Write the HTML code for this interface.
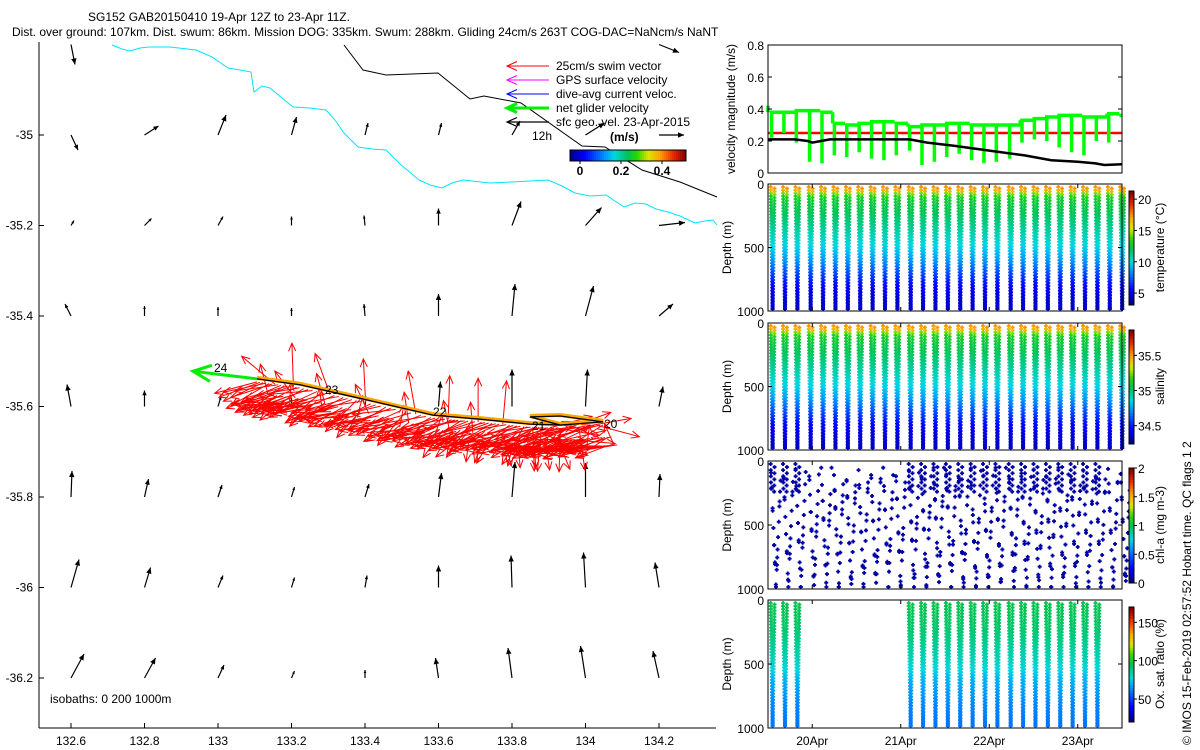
<!DOCTYPE html>
<html><head><meta charset="utf-8"><title>SG152 GAB20150410</title>
<style>
html,body{margin:0;padding:0;background:#fff;}
svg{display:block;font-family:"Liberation Sans",sans-serif;}
text{font-size:12px;fill:#000;}
</style></head>
<body>
<svg id="fig" width="1200" height="750" viewBox="0 0 1200 750" xmlns="http://www.w3.org/2000/svg">
<rect width="1200" height="750" fill="#fff"/>
<text x="88" y="21">SG152 GAB20150410 19-Apr 12Z to 23-Apr 11Z.</text>
<text x="12" y="36">Dist. over ground: 107km. Dist. swum: 86km. Mission DOG: 335km. Swum: 288km. Gliding 24cm/s 263T COG-DAC=NaNcm/s NaNT</text>
<g id="map"></g>
<g id="right"></g>
<text transform="translate(1191,745) rotate(-90)" font-size="12">© IMOS 15-Feb-2019 02:57:52 Hobart time. QC flags 1  2</text>
</svg>
<script>
// ===== data =====
const diveStart=[19.53,19.67,19.81,19.96,20.10,20.24,20.38,20.52,20.66,20.80,20.94,21.09,21.23,21.37,21.51,21.65,21.79,21.93,22.07,22.22,22.36,22.50,22.64,22.78,22.92,23.06,23.20,23.34,23.48];
const depthLevels=[0,25,50,75,100,125,150,175,200,225,250,275,300,325,350,375,400,425,450,475,500,525,550,575,600,625,650,675,700,725,750,775,800,825,850,875,900,925,950,975,1000];
const tempProfile=[17.5,16.8,14.5,13.2,12.8,12.6,12.4,12.3,12.2,12.0,11.8,11.6,11.4,11.2,11.0,10.8,10.6,10.4,10.2,10.0,9.8,9.5,9.2,8.9,8.6,8.2,7.8,7.4,7.0,6.6,6.2,5.8,5.5,5.2,5.0,4.8,4.6,4.4,4.3,4.2,4.1];
const salProfile=[35.52,35.46,35.25,35.14,35.10,35.09,35.07,35.06,35.05,35.03,35.01,35.0,34.98,34.96,34.94,34.93,34.91,34.89,34.87,34.85,34.84,34.81,34.78,34.76,34.73,34.69,34.66,34.62,34.59,34.55,34.52,34.48,34.45,34.43,34.41,34.39,34.37,34.36,34.35,34.34,34.33];
const oxyProfile=[96,95,95,94,94,93,93,92,92,91,90,89,88,87,86,85,84,83,82,81,80,78,76,74,72,70,69,68,67,66,65,64,63,62,62,61,61,60,60,59,59];
const oxyDives=[0,1,2,11,12,13,14,15,16,17,18,19,20,21,22,23,24,25,26];
const chlDepths=[70,150,230,320,410,500,590,680,770,860,950];
const chlShift=[0,40,-30,60,-50,20,70,-20,45,-60,30,-10,55,-40,15,65,-35,25,-55,50,5,-25,35,-45,60,-15,40,-30,10];
const chlValue=0.05;
const greenLevel=[0.38,0.38,0.39,0.39,0.38,0.31,0.30,0.31,0.32,0.32,0.31,0.29,0.30,0.30,0.31,0.31,0.30,0.30,0.30,0.30,0.33,0.34,0.35,0.36,0.36,0.35,0.35,0.37,0.36];
const greenMin=[0.22,0.25,0.19,0.07,0.06,0.11,0.10,0.13,0.09,0.08,0.11,0.14,0.05,0.07,0.10,0.12,0.08,0.06,0.07,0.09,0.19,0.21,0.20,0.16,0.13,0.11,0.20,0.19,0.36];
const swimSpeed=0.25;
const blackTimes=[19.5,19.8,19.95,20.0,20.1,20.2,21.0,21.1,21.3,21.6,22.0,22.4,22.7,23.0,23.2,23.3,23.5];
const blackVals=[0.21,0.21,0.20,0.19,0.20,0.21,0.21,0.21,0.19,0.17,0.14,0.11,0.08,0.07,0.06,0.05,0.055];
const velTicks=[0,0.2,0.4,0.6,0.8];
const depthTicks=[0,500,1000];
const dateTicks=[20,21,22,23];
const dateLabels=["20Apr","21Apr","22Apr","23Apr"];
// map data
const lonTicks=[132.6,132.8,133,133.2,133.4,133.6,133.8,134,134.2];
const latTicks=[-35,-35.2,-35.4,-35.6,-35.8,-36,-36.2];
const gridLats=[-34.8,-35,-35.2,-35.4,-35.6,-35.8,-36,-36.2];
const geoU=[[4,0,0,0,0,0,0,0,20],[7,14,8,5,3,3,8,19,25],[3,7,5,0,-1,0,9,16,26],[-6,0,0,0,-1,0,3,8,14],[-4,0,3,0,1,2,0,2,4],[1,4,4,3,4,3,3,0,1],[8,6,5,3,2,0,-1,-2,-4],[13,11,6,3,0,-3,-4,-5,-6]];
const geoV=[[20,0,0,0,0,0,0,0,8],[15,-9,-20,-18,-12,-12,-14,-12,0],[-5,-7,-9,-9,-10,-17,-24,-18,-3],[-12,-10,-9,-8,-12,-22,-32,-30,-12],[-22,-16,-10,-8,-10,-25,-37,-37,-20],[-26,-18,-12,-10,-13,-24,-35,-34,-23],[-28,-20,-12,-10,-12,-22,-32,-35,-25],[-24,-20,-13,-7,-8,-20,-30,-32,-27]];
const trackLon=[133.106,133.223,133.392,133.585,133.713,133.849,133.931,134.048,133.931,133.849,133.931,134.048];
const trackLat=[-35.539,-35.552,-35.583,-35.619,-35.628,-35.639,-35.641,-35.634,-35.621,-35.623,-35.641,-35.634];
const redAngles=[195,200,205,192,210,198,140,188,203,215,196,200,92,207,190,212,199,185,205,220,197,110,202,190,208,195,200,225,188,93,206,198,193,211,200,186,204,230,196,100,201,189,209,197,203,215,191,88,205,199,194,212,187,202,235,198,90,207,193,200,210,196,204,85,189,215,199,206,194,240,201,188,272,208,196,203,265,190,212,200,15,195,205,350,198,268,210,192,20,202,196,278,207,190,10,200,205,345,194,212];
const isoCyanX=[112,122,130,140,149,170,196,212,228,240,251,254,262,270,282,293,310,326,335,344,352,358,372,386,400,419,430,442,452,463,490,512,530,548,562,575,590,606,615,624,635,646,656,668,680,695,705,713,717];
const isoCyanY=[45,49,51,48,47,47,50,57,68,70,72,92,86,88,98,107,108,110,120,133,141,147,149,150,164,180,185,188,183,180,183,182,181,180,186,193,196,195,201,207,203,204,209,212,216,223,221,220,225];
const isoBlackX=[344,363,386,438,470,484,521,582,605,642,680,717];
const isoBlackY=[45,70,75,73,99,96,103,146,147,170,182,197];

// ===== helpers =====
const NS="http://www.w3.org/2000/svg";
function mk(parent,tag,attrs){const e=document.createElementNS(NS,tag);for(const k in attrs)e.setAttribute(k,attrs[k]);parent.appendChild(e);return e;}
function cl(v){return Math.max(0,Math.min(1,v));}
const CM=[[0,0,0,140],[0.12,0,0,255],[0.3,0,150,255],[0.38,0,215,225],[0.5,0,195,80],[0.58,40,215,0],[0.68,220,230,0],[0.78,255,160,0],[0.9,230,40,0],[1,140,0,0]];
function jet(f){f=cl(f);for(let i=1;i<CM.length;i++){if(f<=CM[i][0]){const a=CM[i-1],b=CM[i],u=(f-a[0])/(b[0]-a[0]);
 return `rgb(${Math.round(a[1]+(b[1]-a[1])*u)},${Math.round(a[2]+(b[2]-a[2])*u)},${Math.round(a[3]+(b[3]-a[3])*u)})`;}}return 'rgb(140,0,0)';}
function plus(g,x,y,c){mk(g,'path',{d:`M${x-2},${y-0.9}h4v1.8h-4zM${x-0.9},${y-2}h1.8v4h-1.8z`,fill:c});}

// ===== map =====
const map=document.getElementById('map');
const MX0=39,MX1=716,MY0=42,MY1=728;
function lx(lon){return 71+(lon-132.6)*367.5;}
function ly(lat){return 135+(-35-lat)*452.5;}
let e;
e=mk(map,'line',{x1:MX0,y1:MY0,x2:MX0,y2:MY1,stroke:'#000','stroke-width':1});


e=mk(map,'line',{x1:MX0,y1:MY1,x2:MX1,y2:MY1,stroke:'#000','stroke-width':1});


lonTicks.forEach(v=>{const x=lx(v);
 mk(map,'line',{x1:x,y1:MY1,x2:x,y2:MY1-5,stroke:'#000'});
 const t=mk(map,'text',{x:x,y:MY1+17,'text-anchor':'middle'});t.textContent=String(v);
 
 });
latTicks.forEach(v=>{const y=ly(v);
 mk(map,'line',{x1:MX0,y1:y,x2:MX0+5,y2:y,stroke:'#000'});
 const t=mk(map,'text',{x:MX0-6,y:y+4,'text-anchor':'end'});t.textContent=String(v);
 
 });
e=mk(map,'polyline',{points:isoCyanX.map((x,i)=>x+','+isoCyanY[i]).join(' '),fill:'none',stroke:'#00e5ff','stroke-width':1});


e=mk(map,'polyline',{points:isoBlackX.map((x,i)=>x+','+isoBlackY[i]).join(' '),fill:'none',stroke:'#000','stroke-width':1});


function arrow(g,x,y,dx,dy,col,w,hs,filled){
 const L=Math.hypot(dx,dy);if(L<0.5)return;
 const ux=dx/L,uy=dy/L,hx=x+dx,hy=y+dy;
 mk(g,'line',{x1:x,y1:y,x2:hx,y2:hy,stroke:col,'stroke-width':w});
 const bx=hx-ux*hs,by=hy-uy*hs,px=-uy*hs*0.45,py=ux*hs*0.45;
 if(filled) mk(g,'polygon',{points:`${hx},${hy} ${bx+px},${by+py} ${bx-px},${by-py}`,fill:col});
 else mk(g,'polyline',{points:`${bx+px},${by+py} ${hx},${hy} ${bx-px},${by-py}`,fill:'none',stroke:col,'stroke-width':w});
}
const geo=mk(map,'g',{});


gridLats.forEach((lat,r)=>lonTicks.forEach((lon,c)=>{
 const dx=geoU[r][c],dy=geoV[r][c];const L=Math.hypot(dx,dy);
 arrow(geo,lx(lon),ly(lat),dx,dy,'#000',1.2,Math.min(6,Math.max(3,L*0.3)),true);
}));
const tx=trackLon.map(lx),ty=trackLat.map(ly);
const red=mk(map,'g',{});


const N=redAngles.length;
for(let k=0;k<N;k++){
 const s=k/(N-1)*7;const i=Math.min(6,Math.floor(s)),f=s-i;
 const x=tx[i]+(tx[i+1]-tx[i])*f,y=ty[i]+(ty[i+1]-ty[i])*f+3;
 const a=redAngles[k]*Math.PI/180,L=swimSpeed*175;
 arrow(red,x,y,Math.cos(a)*L,-Math.sin(a)*L,'#ff0000',1,8,false);
 const a2=(redAngles[(k+11)%N]+8)*Math.PI/180;
 arrow(red,x+8,y+12,Math.cos(a2)*L,-Math.sin(a2)*L*0.7,'#ff0000',1,8,false);
 const a3=(redAngles[(k+23)%N]-6)*Math.PI/180;
 arrow(red,x+14,y+20,Math.cos(a3)*L*0.9,-Math.sin(a3)*L*0.5,'#ff0000',1,8,false);
}
e=mk(map,'polyline',{points:tx.map((x,i)=>x+','+(ty[i]-1)).join(' '),fill:'none',stroke:'#ffa500','stroke-width':4});


e=mk(map,'polyline',{points:tx.map((x,i)=>x+','+ty[i]).join(' '),fill:'none',stroke:'#000','stroke-width':1.3});


const gn=mk(map,'g',{});


arrow(gn,tx[0],ty[0],lx(132.932)-tx[0],ly(-35.522)-ty[0],'#00ee00',3,18,false);
[["24",214,372],["23",325,394],["22",433,416],["21",532,430],["20",604,428]].forEach(d=>{
 const t=mk(map,'text',{x:d[1],y:d[2]});t.textContent=d[0];
 
 });
const lg=mk(map,'g',{});


[["25cm/s swim vector","#ff0000",1],["GPS surface velocity","#ff00ff",1],["dive-avg current veloc.","#0000ff",1],["net glider velocity","#00ee00",3],["sfc geo. vel. 23-Apr-2015","#000",1.2]].forEach((d,i)=>{
 const y=66+i*14;arrow(lg,549,y,-42,0,d[1],d[2],10,false);
 const t=mk(lg,'text',{x:556,y:y+4});t.textContent=d[0];
 
 });
let t=mk(lg,'text',{x:532,y:140});t.textContent='12h';
t=mk(lg,'text',{x:610,y:141,'font-weight':'bold'});t.textContent='(m/s)';
for(let i=0;i<58;i++)mk(lg,'rect',{x:570+i*2,y:150,width:2.2,height:11,fill:jet(i/57)});
mk(lg,'rect',{x:570,y:150,width:116,height:11,fill:'none',stroke:'#000','stroke-width':1});
[["0",580],["0.2",621],["0.4",662]].forEach(d=>{
 mk(lg,'line',{x1:d[1],y1:161,x2:d[1],y2:164,stroke:'#000'});
 const tt=mk(lg,'text',{x:d[1],y:175,'text-anchor':'middle','font-weight':'bold'});tt.textContent=d[0];
 
 });
t=mk(map,'text',{x:50,y:703});t.textContent='isobaths: 0   200  1000m';



// ===== right panels =====
const R=document.getElementById('right');
const PX0=768,PX1=1122;
function tX(d){return PX0+(d-19.5)*(PX1-PX0)/4;}
function box(g,y0,y1,name){
 const b=mk(g,'rect',{x:PX0,y:y0,width:PX1-PX0,height:y1-y0,fill:'none',stroke:'#000','stroke-width':1});
 
 
}
const VY0=45,VY1=173;
function vY(v){return VY1-(v/0.8)*(VY1-VY0);}
const vg=mk(R,'g',{});


e=mk(vg,'line',{x1:PX0,y1:vY(swimSpeed),x2:PX1,y2:vY(swimSpeed),stroke:'#ff0000','stroke-width':2.5});


let gp='';
diveStart.forEach((t0,i)=>{
 const x0=tX(Math.max(19.5,t0-0.01)),x1=tX(i<diveStart.length-1?diveStart[i+1]-0.01:23.5);
 const y=vY(greenLevel[i]);const xs=tX(t0+0.01);
 gp+=`M${x0},${y}L${x1},${y}M${xs},${y}L${xs},${vY(greenMin[i])}`;
 if(i<diveStart.length-1) gp+=`M${x1},${y}L${x1},${vY(greenLevel[i+1])}`;
});
gp+=`M${PX0},${vY(0.42)}L${PX0},${vY(greenLevel[0])}`;
e=mk(vg,'path',{d:gp,fill:'none',stroke:'#00ff00','stroke-width':3.5});


e=mk(vg,'polyline',{points:blackTimes.map((d,i)=>tX(d)+','+vY(blackVals[i])).join(' '),fill:'none',stroke:'#000','stroke-width':2.5});


box(vg,VY0,VY1,'velocity-axes');
velTicks.forEach(v=>{const y=vY(v);
 mk(vg,'line',{x1:PX0,y1:y,x2:PX0+4,y2:y,stroke:'#000'});
 mk(vg,'line',{x1:PX1,y1:y,x2:PX1-4,y2:y,stroke:'#000'});
 const tt=mk(vg,'text',{x:PX0-4,y:y+5,'text-anchor':'end'});tt.textContent=String(v);
 
 });
t=mk(vg,'text',{transform:`translate(735,109) rotate(-90)`,'text-anchor':'middle'});t.textContent='velocity magnitude (m/s)';



const DW=0.022;
function profilePanel(name,y0,y1,profile,vmin,vmax,dives,cbTicks,cbTitle,extra){
 const g=mk(R,'g',{});
 
 
 const dY=d=>y0+3+(d/1000)*(y1-y0-5);
 const col=v=>jet((v-vmin)/(vmax-vmin));
 if(profile){
  dives.forEach(i=>{const t0=diveStart[i];
   depthLevels.forEach((d,k)=>{const c=col(profile[k]);
    const xd=tX(t0+DW*d/1000),xu=tX(t0+2*DW-DW*d/1000);
    plus(g,xd,dY(d),c);
    plus(g,xu,dY(Math.min(1000,d+12)),c);
   });});
 }
 if(extra)extra(g,dY,col);
 box(g,y0,y1,name+'-axes');
 depthTicks.forEach(v=>{const y=y0+(v/1000)*(y1-y0);
  mk(g,'line',{x1:PX0,y1:y,x2:PX0+4,y2:y,stroke:'#000'});
  mk(g,'line',{x1:PX1,y1:y,x2:PX1-4,y2:y,stroke:'#000'});
  const tt=mk(g,'text',{x:PX0-4,y:y+5,'text-anchor':'end'});tt.textContent=String(v);
  
  });
 dateTicks.forEach(d=>{const x=tX(d);
  mk(g,'line',{x1:x,y1:y1,x2:x,y2:y1-4,stroke:'#000'});
  mk(g,'line',{x1:x,y1:y0,x2:x,y2:y0+4,stroke:'#000'});});
 const yt=mk(g,'text',{transform:`translate(731,${(y0+y1)/2}) rotate(-90)`,'text-anchor':'middle'});yt.textContent='Depth (m)';
 
 
 const cy0=y0+7,cy1=y1-6,n=40;
 for(let i=0;i<n;i++)mk(g,'rect',{x:1129,y:cy1-(i+1)*(cy1-cy0)/n,width:5,height:(cy1-cy0)/n+0.5,fill:jet(i/(n-1))});
 const cb=mk(g,'rect',{x:1129,y:cy0,width:5,height:cy1-cy0,fill:'none',stroke:'#000','stroke-width':1});
 
 
 cbTicks.forEach(v=>{const y=cy1-(v-vmin)/(vmax-vmin)*(cy1-cy0);
  mk(g,'line',{x1:1134,y1:y,x2:1137,y2:y,stroke:'#000'});
  const tt=mk(g,'text',{x:1138,y:y+5});tt.textContent=String(v);
  
  });
 const ct=mk(g,'text',{transform:`translate(1164,${(y0+y1)/2}) rotate(-90)`,'text-anchor':'middle'});ct.textContent=cbTitle;
 
 
 return g;
}
const allDives=diveStart.map((_,i)=>i);
profilePanel('temperature-panel',184,311,tempProfile,3.1,21.3,allDives,[20,15,10,5],'temperature (°C)');
profilePanel('salinity-panel',323,450,salProfile,34.24,35.86,allDives,[35.5,35,34.5],'salinity');
profilePanel('chlorophyll-panel',461,589,null,0,2,[], [2,1.5,1,0.5,0],'chl-a (mg m-3)',(g,dY,col)=>{
 const c=jet(chlValue/2);
 diveStart.forEach((t0,i)=>{
  chlDepths.forEach((d,k)=>{
   const dd=Math.max(30,Math.min(1000,d+chlShift[(i+k)%chlShift.length]));
   plus(g,tX(t0+0.06*dd/1000),dY(dd),c);
   const du=Math.max(30,Math.min(1000,dd+chlShift[(i+k+5)%chlShift.length]+45));
   plus(g,tX(t0+0.12-0.06*du/1000),dY(du),c);
  });
 });
 oxyDives.forEach(i=>{const t0=diveStart[i];
  [0,50,100,150,200].forEach(d=>{
   plus(g,tX(t0+DW*d/1000),dY(d),c);
   plus(g,tX(t0+2*DW-DW*d/1000),dY(d+25),c);
  });});
});
profilePanel('oxygen-panel',600,728,oxyProfile,20,170,oxyDives,[150,100,50],'Ox. sat. ratio (%)');
dateTicks.forEach((d,i)=>{const tt=mk(R,'text',{x:tX(d),y:745,'text-anchor':'middle'});tt.textContent=dateLabels[i];
 
 });
</script>
</body></html>
